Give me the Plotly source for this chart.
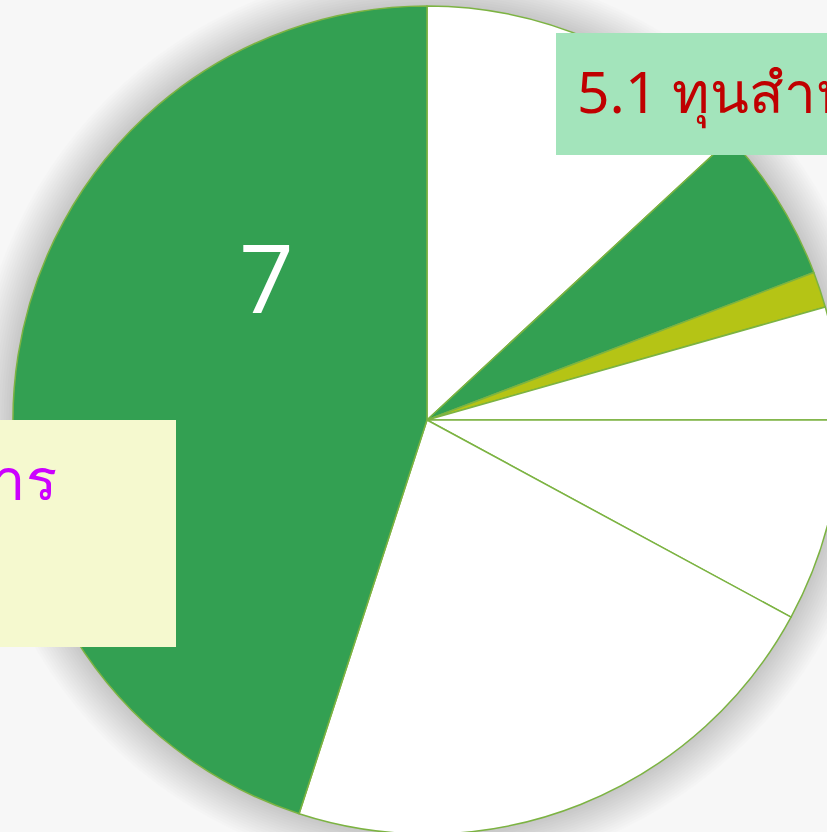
import plotly.graph_objects as go

# ---- data ----
slice_labels = ["1", "2", "3", "4", "5", "6", "7"]
slice_values = [13.1, 6.1, 1.4, 4.4, 7.9, 22.1, 45.0]
slice_colors = ["#FFFFFF", "#33A052", "#B5C415", "#FFFFFF", "#FFFFFF", "#FFFFFF", "#33A052"]

label_big = "7"
label_red = "5.1 ทุนสำหรับ"
label_magenta = "ค่าบริหารจัดการ"

# ---- layout geometry (pixels) ----
W, H = 870, 840
CX, CY, R = 427, 420, 414

def px(x):
    return x / W

def py(y):
    return 1 - y / H

fig = go.Figure()
fig.add_trace(go.Pie(
    labels=slice_labels,
    values=slice_values,
    sort=False,
    direction="clockwise",
    rotation=0,
    marker=dict(colors=slice_colors, line=dict(color="#7CB342", width=1.5)),
    textinfo="none",
    textposition="none",
    hoverinfo="label+value",
    showlegend=False,
    domain=dict(x=[px(CX - R), px(CX + R)], y=[py(CY + R), py(CY - R)]),
))

shapes = []
# soft shadow around the pie
N = 16
for i in range(N):
    rr = R + 2 + i * 2.5
    shapes.append(dict(
        type="circle", layer="below",
        xref="paper", yref="paper",
        xsizemode="pixel", ysizemode="pixel",
        xanchor=px(CX), yanchor=py(CY),
        x0=-rr, x1=rr, y0=-rr, y1=rr,
        fillcolor="rgba(0,0,0,0.01)", line=dict(width=0),
    ))
# label boxes
shapes.append(dict(type="rect", layer="above", xref="paper", yref="paper",
                   x0=px(556), x1=px(W + 50), y0=py(155), y1=py(33),
                   fillcolor="#A3E4BB", line=dict(width=0)))
shapes.append(dict(type="rect", layer="above", xref="paper", yref="paper",
                   x0=px(-200), x1=px(176), y0=py(647), y1=py(420),
                   fillcolor="#F5F9CF", line=dict(width=0)))

annotations = [
    dict(text=label_big, x=px(266), y=py(276), xref="paper", yref="paper",
         xanchor="center", yanchor="middle", showarrow=False,
         font=dict(size=96, color="#FFFFFF", family="Open Sans, Noto Sans, sans-serif")),
    dict(text=label_red, x=px(575), y=py(91), xref="paper", yref="paper",
         xanchor="left", yanchor="middle", showarrow=False,
         font=dict(size=57, color="#C00000", family="Noto Sans, sans-serif")),
    dict(text=label_magenta, x=px(59), y=py(477), xref="paper", yref="paper",
         xanchor="right", yanchor="middle", showarrow=False,
         font=dict(size=58, color="#CC00FF", family="Noto Sans, sans-serif")),
]

fig.update_layout(
    width=W, height=H,
    margin=dict(l=0, r=0, t=0, b=0),
    paper_bgcolor="#F7F7F7",
    plot_bgcolor="#F7F7F7",
    shapes=shapes,
    annotations=annotations,
)

fig.write_html(
    "out.html",
    config={"displayModeBar": False},
    post_script="document.body.style.margin='0';document.body.style.overflow='hidden';document.documentElement.style.overflow='hidden';",
)
